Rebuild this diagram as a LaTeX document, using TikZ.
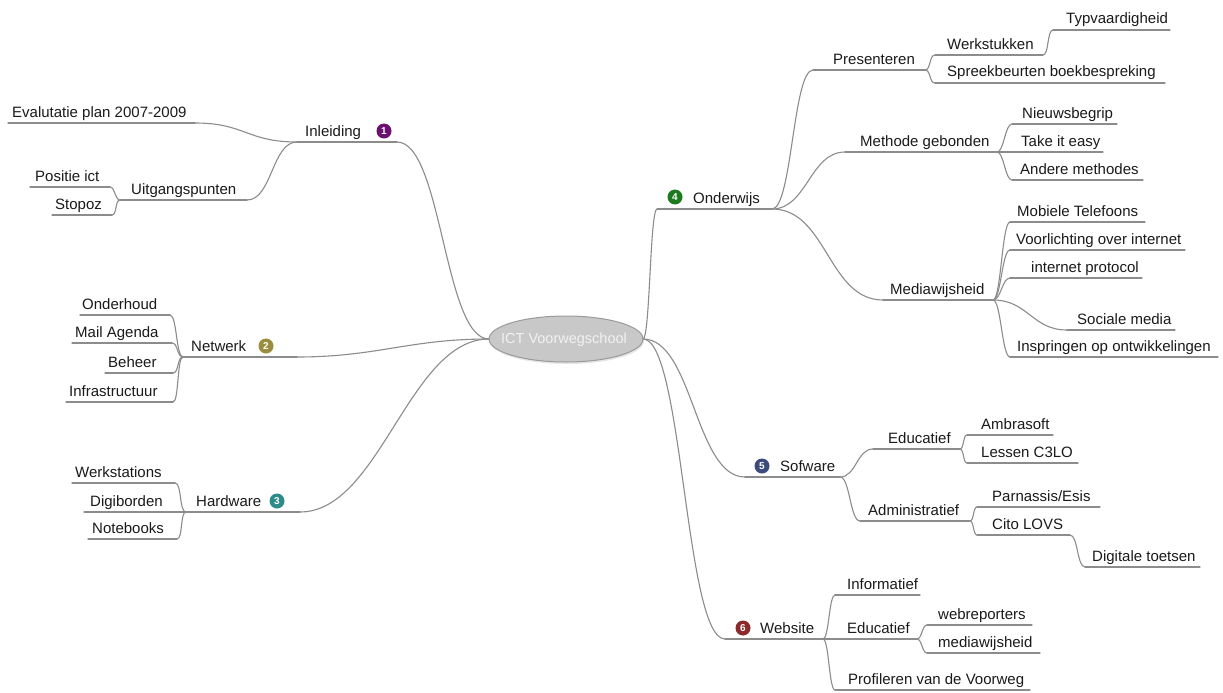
\documentclass[tikz,border=0pt]{standalone}
\usepackage{fontspec}
\setmainfont{Liberation Sans}
\definecolor{ln}{HTML}{8C8C8C}
\definecolor{tx}{HTML}{1A1A1A}
\definecolor{bA}{HTML}{6B1070}
\definecolor{bB}{HTML}{9A8C3C}
\definecolor{bC}{HTML}{2E8B8B}
\definecolor{bD}{HTML}{1E7A1E}
\definecolor{bE}{HTML}{3C4A7C}
\definecolor{bF}{HTML}{8B2A2A}
\definecolor{cfill}{HTML}{C8C8C8}
\definecolor{cline}{HTML}{9A9A9A}
\tikzset{
  uline/.style={draw=ln, line width=1.1pt, line cap=round},
  conline/.style={draw=ln, line width=1.1pt},
  lbl/.style={anchor=base west, inner sep=0pt, text=tx, font=\fontsize{15}{17}\selectfont},
  badge/.style={circle, fill=#1, text=white, inner sep=0pt, minimum size=15pt, font=\fontsize{10}{10}\selectfont\bfseries},
  centertext/.style={inner sep=0pt, text=white!95!black, font=\fontsize{14.5}{16}\selectfont}
}
% name, text, textleft, underline y, underline left, underline right
\newcommand\tp[6]{%
  \coordinate (#1L) at (#5,#4);
  \coordinate (#1R) at (#6,#4);
  \draw[uline] (#1L) -- (#1R);
  \node[lbl] (#1) at (#3,#4-6) {#2};
}
\newcommand\conn[3]{\draw[conline] (#1) .. controls +(#3,0) and +(-#3,0) .. (#2);}
\begin{document}
\begin{tikzpicture}[x=1pt,y=-1pt]
\path[use as bounding box, fill=white] (0,0) rectangle (1223,693);

\fill[black!10] (567,341) ellipse (77 and 23);
\draw[cline, fill=cfill, line width=1pt] (566,339) ellipse (77 and 23);
\node[centertext] (c) at (564,340) {ICT Voorwegschool};
\coordinate (cW) at (489,339);
\coordinate (cE) at (643,339);

% ---------- left ----------
\tp{inl}{Inleiding}{305}{142}{297}{397}
\node[badge=bA] (b1) at (384,131) {1};
\tp{eval}{Evalutatie plan 2007-2009}{12}{123}{8}{195}
\tp{uitg}{Uitgangspunten}{131}{200}{120}{247}
\tp{pos}{Positie ict}{35}{187}{30}{110}
\tp{stop}{Stopoz}{55}{215}{52}{112}

\tp{net}{Netwerk}{191}{357}{183}{297}
\node[badge=bB] (b2) at (266,346) {2};
\tp{ond}{Onderhoud}{82}{315}{80}{170}
\tp{mail}{Mail Agenda}{75}{343}{72}{172}
\tp{beh}{Beheer}{108}{373}{105}{173}
\tp{inf}{Infrastructuur}{69}{402}{66}{173}

\tp{hw}{Hardware}{196}{512}{186}{300}
\node[badge=bC] (b3) at (277,501) {3};
\tp{werkst}{Werkstations}{75}{483}{72}{175}
\tp{digib}{Digiborden}{90}{512}{84}{186}
\tp{note}{Notebooks}{92}{539}{88}{177}

\conn{evalR}{inlL}{50}
\conn{uitgR}{inlL}{25}
\conn{posR}{uitgL}{5}
\conn{stopR}{uitgL}{5}
\conn{inlR}{cW}{45}
\conn{ondR}{netL}{7}
\conn{mailR}{netL}{6}
\conn{behR}{netL}{6}
\conn{infR}{netL}{6}
\conn{netR}{cW}{80}
\conn{werkstR}{hwL}{7}
\conn{noteR}{hwL}{6}
\conn{hwR}{cW}{80}

% ---------- right ----------
\tp{ondw}{Onderwijs}{693}{209}{657}{772}
\node[badge=bD] (b4) at (675,197) {4};
\tp{pres}{Presenteren}{833}{70}{813}{925}
\tp{werk}{Werkstukken}{947}{55}{935}{1043}
\tp{typ}{Typvaardigheid}{1066}{30}{1053}{1170}
\tp{spreek}{Spreekbeurten boekbespreking}{947}{83}{935}{1165}
\tp{meth}{Methode gebonden}{860}{152}{845}{997}
\tp{nieuws}{Nieuwsbegrip}{1022}{124}{1012}{1117}
\tp{take}{Take it easy}{1021}{152}{997}{1103}
\tp{andere}{Andere methodes}{1020}{180}{1012}{1143}
\tp{media}{Mediawijsheid}{890}{300}{883}{993}
\tp{mob}{Mobiele Telefoons}{1017}{222}{1010}{1145}
\tp{voor}{Voorlichting over internet}{1016}{250}{1010}{1185}
\tp{iprot}{internet protocol}{1031}{278}{1010}{1142}
\tp{soc}{Sociale media}{1077}{330}{1067}{1175}
\tp{insp}{Inspringen op ontwikkelingen}{1017}{357}{1010}{1218}

\tp{sof}{Sofware}{780}{477}{745}{840}
\node[badge=bE] (b5) at (762,466) {5};
\tp{educa}{Educatief}{888}{449}{873}{960}
\tp{ambra}{Ambrasoft}{981}{435}{967}{1053}
\tp{lessen}{Lessen C3LO}{981}{463}{967}{1078}
\tp{admin}{Administratief}{868}{521}{860}{970}
\tp{parn}{Parnassis/Esis}{992}{507}{977}{1100}
\tp{cito}{Cito LOVS}{992}{535}{977}{1070}
\tp{digi}{Digitale toetsen}{1092}{567}{1085}{1200}

\tp{web}{Website}{760}{639}{725}{823}
\node[badge=bF] (b6) at (743,628) {6};
\tp{info}{Informatief}{847}{595}{835}{920}
\tp{educb}{Educatief}{847}{639}{823}{917}
\tp{webrep}{webreporters}{938}{625}{927}{1032}
\tp{mwh}{mediawijsheid}{938}{653}{927}{1040}
\tp{prof}{Profileren van de Voorweg}{848}{690}{835}{1030}

\conn{cE}{ondwL}{7}
\conn{ondwR}{presL}{20}
\conn{ondwR}{methL}{35}
\conn{ondwR}{mediaL}{55}
\conn{presR}{werkL}{6}
\conn{presR}{spreekL}{6}
\conn{werkR}{typL}{6}
\conn{methR}{nieuwsL}{7}
\conn{methR}{andereL}{7}
\conn{mediaR}{mobL}{8}
\conn{mediaR}{voorL}{8}
\conn{mediaR}{iprotL}{8}
\conn{mediaR}{socL}{35}
\conn{mediaR}{inspL}{8}
\conn{cE}{sofL}{50}
\conn{sofR}{educaL}{16}
\conn{sofR}{adminL}{10}
\conn{educaR}{ambraL}{4}
\conn{educaR}{lessenL}{4}
\conn{adminR}{parnL}{4}
\conn{adminR}{citoL}{4}
\conn{citoR}{digiL}{8}
\conn{cE}{webL}{40}
\conn{webR}{infoL}{6}
\conn{webR}{profL}{6}
\conn{educbR}{webrepL}{5}
\conn{educbR}{mwhL}{5}
\end{tikzpicture}
\end{document}
